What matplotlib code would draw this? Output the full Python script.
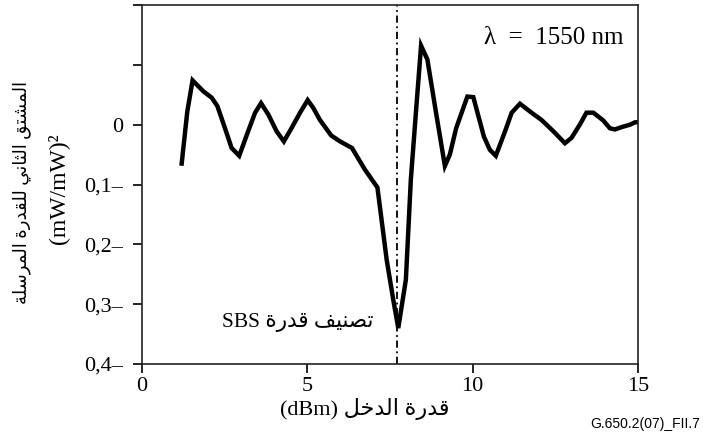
import matplotlib
matplotlib.use("Agg")
import matplotlib.pyplot as plt

# input power (dBm) and second derivative of transmitted power (mW/mW)^2
dbm = [1.20, 1.37, 1.53, 1.85, 2.11, 2.28, 2.51, 2.71, 2.94, 3.21, 3.42, 3.60,
       3.82, 4.07, 4.29, 4.52, 4.78, 5.01, 5.18, 5.38, 5.72, 5.99, 6.35, 6.74,
       7.12, 7.40, 7.60, 7.75, 7.98, 8.13, 8.29, 8.44, 8.63, 8.91, 9.16, 9.31,
       9.50, 9.84, 10.02, 10.34, 10.52, 10.70, 10.98, 11.18, 11.43, 11.78,
       12.08, 12.44, 12.79, 12.99, 13.24, 13.44, 13.65, 13.95, 14.15, 14.30,
       14.51, 14.76, 14.91, 15.00]
d2p = [-0.065, 0.022, 0.074, 0.056, 0.045, 0.031, -0.006, -0.039, -0.052,
       -0.011, 0.020, 0.036, 0.017, -0.011, -0.028, -0.006, 0.020, 0.041,
       0.028, 0.008, -0.018, -0.028, -0.039, -0.075, -0.105, -0.226, -0.293,
       -0.340, -0.259, -0.092, 0.025, 0.132, 0.109, 0.014, -0.069, -0.050,
       -0.006, 0.047, 0.046, -0.020, -0.042, -0.052, -0.011, 0.020, 0.035,
       0.020, 0.008, -0.011, -0.031, -0.022, 0.000, 0.020, 0.020, 0.007,
       -0.006, -0.008, -0.004, 0.000, 0.004, 0.004]
sbs_threshold = 7.71

xticks = [0, 5, 10, 15]
yticks = [-0.4, -0.3, -0.2, -0.1, 0.0, 0.1, 0.2]
ytick_labels = ["0,4–", "0,3–", "0,2–", "0,1–", "0", "", ""]

# Arabic presentation forms: isolated code point, then final/initial/medial follow
ISO = {'ا': 0xFE8D, 'ة': 0xFE93, 'ت': 0xFE95, 'ث': 0xFE99, 'خ': 0xFEA5,
       'د': 0xFEA9, 'ر': 0xFEAD, 'س': 0xFEB1, 'ش': 0xFEB5, 'ص': 0xFEB9,
       'ف': 0xFED1, 'ق': 0xFED5, 'ل': 0xFEDD, 'م': 0xFEE1, 'ن': 0xFEE5,
       'ي': 0xFEF1}
RIGHT_ONLY = set('اةدر')


def ar(text):
    # join letters and put them in visual (left-to-right) order
    out = []
    for i, ch in enumerate(text):
        if ch not in ISO:
            out.append(ch)
            continue
        prev = text[i - 1] if i > 0 else ''
        nxt = text[i + 1] if i + 1 < len(text) else ''
        jp = prev in ISO and prev not in RIGHT_ONLY
        jn = ch not in RIGHT_ONLY and nxt in ISO
        off = {(False, False): 0, (True, False): 1, (False, True): 2, (True, True): 3}[(jp, jn)]
        out.append(chr(ISO[ch] + off))
    return ''.join(out)[::-1]


plt.rcParams['font.family'] = ['Liberation Serif', 'DejaVu Sans']

W, H = 703, 441
fig = plt.figure(figsize=(W / 100, H / 100), dpi=100)
ax = fig.add_axes([142 / W, 1 - 364 / H, (638 - 142) / W, (364 - 5) / H])

ax.plot(dbm, d2p, color='black', lw=3.2, solid_joinstyle='miter')
ax.axvline(sbs_threshold, color='black', lw=1.3, linestyle=(0, (4, 2, 1, 2)))

ax.set_xlim(0, 15)
ax.set_ylim(-0.4, 0.2)
ax.set_xticks(xticks)
ax.set_xticklabels([str(t) for t in xticks])
ax.set_yticks(yticks)
ax.set_yticklabels(ytick_labels)
ax.tick_params(direction='out', length=6.5, width=1.2, labelsize=16, color='black')
ax.tick_params(axis='x', pad=3)
ax.tick_params(axis='y', pad=7)
for s in ax.spines.values():
    s.set_linewidth(1.2)
    s.set_color('#222222')

ax.text(14.55, 0.145, "λ\u2002=\u20021550 nm", fontsize=18, ha='right', va='center')
ax.text(7.0, -0.33, "SBS " + ar("تصنيف قدرة"), fontsize=15.5, ha='right', va='center')

ax.set_xlabel("(dBm) " + ar("قدرة الدخل"), fontsize=16)
ax.xaxis.set_label_coords((365 - 142) / (638 - 142), -(398 - 364) / (364 - 5), transform=ax.transAxes)

fig.text(22 / W, 1 - 193 / H, ar("المشتق الثاني للقدرة المرسلة"), rotation=90,
         ha='center', va='center', fontsize=13)
fig.text(58 / W, 1 - 189 / H, "(mW/mW)²", rotation=90, ha='center', va='center', fontsize=17)

fig.text(700 / W, 1 - 424 / H, "G.650.2(07)_FII.7", family='Liberation Sans',
         fontsize=10, ha='right', va='center')

fig.savefig("out.png", dpi=100)
